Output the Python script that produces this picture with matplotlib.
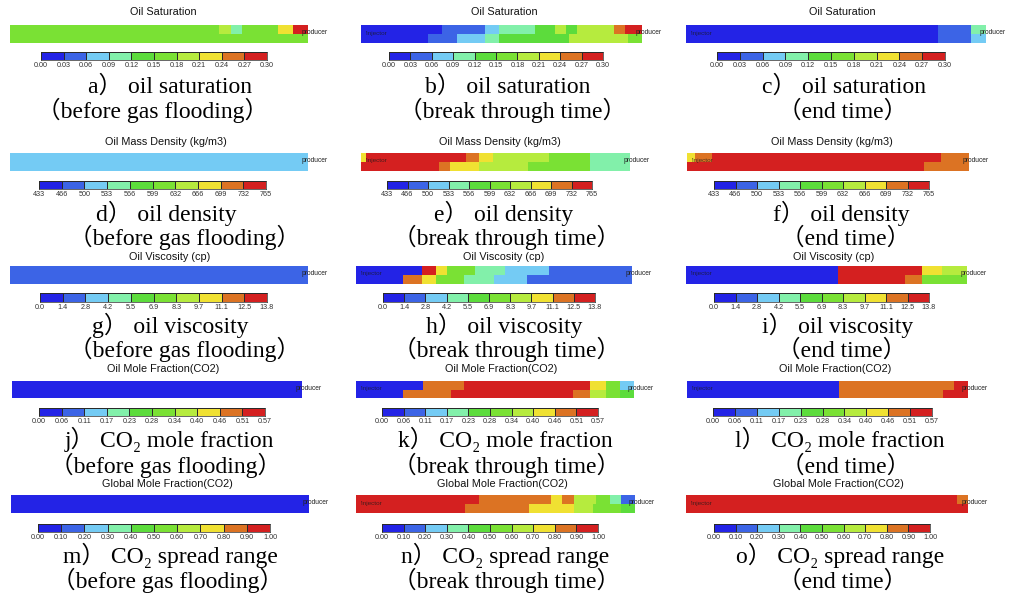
import numpy as np
import matplotlib
matplotlib.use('Agg')
import matplotlib.pyplot as plt
from matplotlib.colors import ListedColormap, BoundaryNorm

# ---------------- data ----------------
titles = ["Oil Saturation", "Oil Mass Density (kg/m3)", "Oil Viscosity (cp)",
          "Oil Mole Fraction(CO2)", "Global Mole Fraction(CO2)"]

sat_ticks = ["0.00", "0.03", "0.06", "0.09", "0.12", "0.15", "0.18", "0.21", "0.24", "0.27", "0.30"]
den_ticks = ["433", "466", "500", "533", "566", "599", "632", "666", "699", "732", "765"]
vis_ticks = ["0.0", "1.4", "2.8", "4.2", "5.5", "6.9", "8.3", "9.7", "11.1", "12.5", "13.8"]
omf_ticks = ["0.00", "0.06", "0.11", "0.17", "0.23", "0.28", "0.34", "0.40", "0.46", "0.51", "0.57"]
gmf_ticks = ["0.00", "0.10", "0.20", "0.30", "0.40", "0.50", "0.60", "0.70", "0.80", "0.90", "1.00"]
row_ticks = [sat_ticks, den_ticks, vis_ticks, omf_ticks, gmf_ticks]

# grid-block colour class (0..9) runs along the strip: [class, length in % of strip]
a_top = [[5, 70], [6, 4], [3, 4], [5, 12], [7, 5], [9, 5]]
a_bot = [[5, 100]]
b_top = [[0, 29], [1, 15], [2, 5], [3, 13], [4, 7], [6, 4], [4, 4], [6, 13], [8, 4], [9, 6]]
b_bot = [[0, 24], [1, 10], [2, 10], [3, 5], [4, 25], [6, 21], [5, 5]]
c_top = [[0, 84], [1, 11], [3, 5]]
c_bot = [[0, 84], [1, 11], [2, 5]]

d_top = [[2, 100]]
d_bot = [[2, 100]]
e_top = [[7, 2], [9, 37], [8, 5], [7, 5], [6, 21], [5, 15], [3, 15]]
e_bot = [[9, 29], [8, 4], [7, 11], [6, 18], [5, 23], [3, 15]]
f_top = [[7, 3], [8, 6], [9, 81], [8, 10]]
f_bot = [[9, 84], [8, 16]]

g_top = [[1, 100]]
g_bot = [[1, 100]]
h_top = [[0, 24], [9, 5], [7, 4], [5, 10], [3, 11], [2, 16], [1, 30]]
h_bot = [[0, 17], [8, 7], [7, 5], [5, 10], [3, 11], [2, 12], [1, 38]]
i_top = [[0, 54], [9, 30], [7, 7], [6, 9]]
i_bot = [[0, 54], [9, 24], [8, 6], [5, 16]]

j_top = [[0, 100]]
j_bot = [[0, 100]]
k_top = [[0, 24], [8, 15], [9, 45], [7, 6], [5, 5], [2, 5]]
k_bot = [[0, 17], [8, 17], [9, 44], [8, 6], [6, 6], [5, 5], [4, 5]]
l_top = [[0, 54], [8, 41], [9, 5]]
l_bot = [[0, 54], [8, 37], [9, 9]]

m_top = [[0, 100]]
m_bot = [[0, 100]]
n_top = [[9, 44], [8, 26], [7, 4], [8, 4], [6, 8], [5, 5], [3, 4], [1, 5]]
n_bot = [[9, 39], [8, 23], [7, 16], [6, 7], [5, 10], [4, 5]]
o_top = [[9, 96], [8, 4]]
o_bot = [[9, 100]]

strips = [[(a_top, a_bot), (b_top, b_bot), (c_top, c_bot)],
          [(d_top, d_bot), (e_top, e_bot), (f_top, f_bot)],
          [(g_top, g_bot), (h_top, h_bot), (i_top, i_bot)],
          [(j_top, j_bot), (k_top, k_bot), (l_top, l_bot)],
          [(m_top, m_bot), (n_top, n_bot), (o_top, o_bot)]]

props = ["oil saturation", "oil density", "oil viscosity",
         "CO\u2082 mole fraction", "CO\u2082 spread range"]
letters = [["a", "b", "c"], ["d", "e", "f"], ["g", "h", "i"], ["j", "k", "l"], ["m", "n", "o"]]
stages = ["\uff08before gas flooding\uff09", "\uff08break through time\uff09", "\uff08end time\uff09"]

# ---------------- style / layout ----------------
palette = ['#2323e6', '#3c64e6', '#74cbf4', '#82f0aa', '#5cdc3c',
           '#7ae134', '#b6eb3e', '#f0e132', '#dc7323', '#d42020']
cmap = ListedColormap(palette)
norm = BoundaryNorm(np.arange(-0.5, 10.5, 1), 10)

W, H = 1014, 595
strip_x = [[(10, 308), (361, 642), (686, 986)],
           [(10, 308), (361, 630), (687, 969)],
           [(10, 308), (356, 632), (686, 967)],
           [(12, 302), (356, 634), (687, 968)],
           [(11, 309), (356, 635), (686, 968)]]
strip_y = [(25, 43), (153, 171), (266, 284), (381, 398), (495, 513)]
cbar_x = [[(41, 267), (389, 603), (717, 945)],
          [(39, 266), (387, 592), (714, 929)],
          [(40, 267), (383, 595), (714, 929)],
          [(39, 265), (382, 598), (713, 932)],
          [(38, 270), (382, 598), (714, 930)]]
cbar_y = [(52, 60), (181, 189), (293, 302), (408, 416), (524, 532)]
title_y = [12, 142, 257, 369, 484]
title_x = [[163, 504, 842], [166, 500, 832], [170, 504, 834], [163, 501, 835], [167, 502, 838]]
cap_base = [(93, 118), (221, 245), (333, 357), (447, 473), (563, 588)]
cap_x1 = [[170, 508, 844], [166, 504, 841], [170, 504, 838], [169, 505, 840], [170, 505, 840]]
cap_x2 = [[153, 513, 843], [185, 507, 846], [185, 507, 842], [166, 507, 846], [168, 507, 843]]

plt.rcParams['font.family'] = ['Liberation Sans', 'DejaVu Sans']
serif = ['Liberation Serif', 'Noto Sans CJK SC', 'DejaVu Serif']

fig = plt.figure(figsize=(W / 100, H / 100), dpi=100)
fig.patch.set_facecolor('white')


def prect(x0, x1, y0, y1):
    return [x0 / W, 1 - y1 / H, (x1 - x0) / W, (y1 - y0) / H]


def ftext(x, y, s, **kw):
    return fig.text(x / W, 1 - y / H, s, **kw)


def expand(runs):
    return np.repeat([r[0] for r in runs], [r[1] for r in runs])


for r in range(5):
    for c in range(3):
        # title
        ftext(title_x[r][c], title_y[r], titles[r], ha='center', va='center',
              fontsize=7.8, color='#111111')
        # reservoir strip
        x0, x1 = strip_x[r][c]
        y0, y1 = strip_y[r]
        ax = fig.add_axes(prect(x0, x1, y0, y1))
        top, bot = strips[r][c]
        grid = np.vstack([expand(bot), expand(top)])
        ax.pcolormesh(np.arange(grid.shape[1] + 1), np.arange(3), grid,
                      cmap=cmap, norm=norm, shading='flat')
        ax.set_xlim(0, grid.shape[1])
        ax.set_ylim(0, 2)
        ax.set_axis_off()
        yc = (y0 + y1) / 2 - 1
        ftext(x1 - 6, yc, "producer", fontsize=4.8, color='#222222', ha='left', va='center')
        if c > 0:
            ftext(x0 + 5, yc, "'injector", fontsize=4.6, color='#1a1a1a', alpha=0.75,
                  ha='left', va='center')
        # colour bar
        cx0, cx1 = cbar_x[r][c]
        cy0, cy1 = cbar_y[r]
        cax = fig.add_axes(prect(cx0, cx1, cy0, cy1))
        cax.pcolormesh(np.arange(11), np.arange(2), np.arange(10).reshape(1, 10),
                       cmap=cmap, norm=norm, shading='flat', edgecolors='#2a2a2a', linewidth=0.5)
        cax.set_xlim(0, 10)
        cax.set_ylim(0, 1)
        cax.set_yticks([])
        cax.set_xticks(np.arange(11))
        cax.set_xticklabels(row_ticks[r], fontsize=5.2, color='#333333')
        cax.tick_params(axis='x', length=0, pad=1.5)
        for sp in cax.spines.values():
            sp.set_linewidth(0.5)
            sp.set_color('#2a2a2a')
        # captions
        ftext(cap_x1[r][c], cap_base[r][0], letters[r][c] + "\uff09 " + props[r],
              family=serif, fontsize=17, ha='center', va='baseline', color='black')
        ftext(cap_x2[r][c], cap_base[r][1], stages[c],
              family=serif, fontsize=17, ha='center', va='baseline', color='black')

fig.savefig('out.png', dpi=100, facecolor='white')
